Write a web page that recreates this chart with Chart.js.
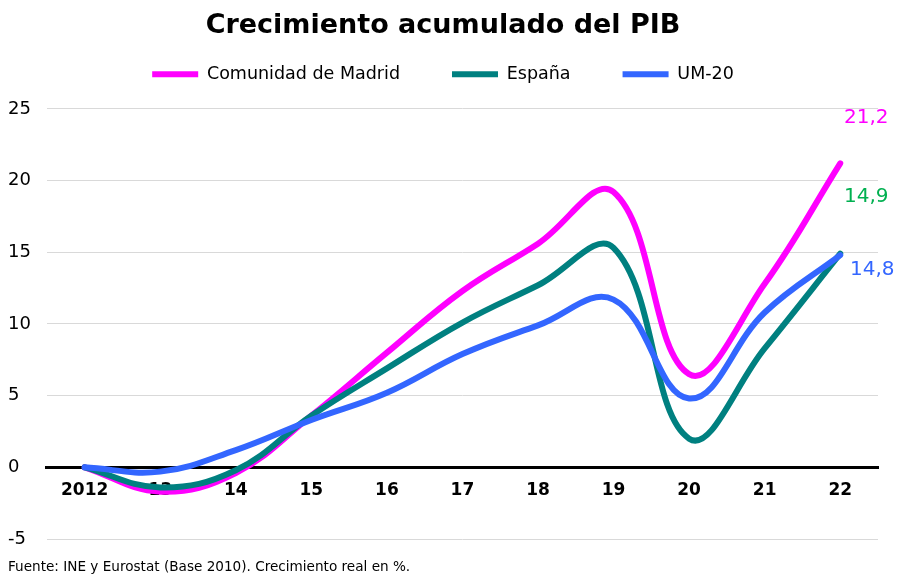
<!DOCTYPE html>
<html>
<head>
<meta charset="utf-8">
<script src="https://cdn.jsdelivr.net/npm/chart.js@4"></script>
<style>
  html, body { margin: 0; padding: 0; background: #fff; }
  #wrap { width: 898px; height: 574px; }
</style>
</head>
<body>
<div id="wrap"><canvas id="pibChart"></canvas></div>
<script>
// Datos (crecimiento acumulado, %)
const years = ['2012', '13', '14', '15', '16', '17', '18', '19', '20', '21', '22'];
const madrid = [0, -1.7, -0.4, 3.6, 8.0, 12.3, 15.6, 19.2, 6.5, 12.8, 21.2];
const espana = [0, -1.4, -0.2, 3.6, 6.9, 10.1, 12.7, 15.3, 2.0, 8.3, 14.9];
const um20 = [0, -0.3, 1.2, 3.3, 5.2, 7.9, 9.9, 11.7, 4.8, 10.8, 14.8];
const yTicks = [-5, 0, 5, 10, 15, 20, 25];

const FONT = "'DejaVu Sans', Verdana, sans-serif";

// un poco más de aire bajo la leyenda
const legendSpace = {
  id: 'legendSpace',
  afterInit(chart) {
    const lg = chart.legend;
    if (!lg) return;
    const fit = lg.fit;
    lg.fit = function () { fit.call(this); this.height += 16; };
  }
};

// etiquetas de valor final a la derecha de cada serie
const endLabels = {
  id: 'endLabels',
  afterDatasetsDraw(chart) {
    const ctx = chart.ctx;
    const cfg = [
      { ds: 0, color: '#ff00ff', dx: 26, dy: -46 },
      { ds: 1, color: '#00b050', dx: 26, dy: -57 },
      { ds: 2, color: '#3366ff', dx: 32, dy: 15 }
    ];
    ctx.save();
    ctx.font = '20px ' + FONT;
    ctx.textAlign = 'center';
    ctx.textBaseline = 'middle';
    cfg.forEach(c => {
      const meta = chart.getDatasetMeta(c.ds);
      const pt = meta.data[meta.data.length - 1];
      const vals = chart.data.datasets[c.ds].data;
      const txt = vals[vals.length - 1].toFixed(1).replace('.', ',');
      ctx.fillStyle = c.color;
      ctx.fillText(txt, pt.x + c.dx, pt.y + c.dy);
    });
    ctx.restore();
  }
};

// nota de fuente abajo a la izquierda
const sourceNote = {
  id: 'sourceNote',
  afterDraw(chart) {
    const ctx = chart.ctx;
    ctx.save();
    ctx.font = '13.6px ' + FONT;
    ctx.fillStyle = '#000';
    ctx.textAlign = 'left';
    ctx.textBaseline = 'middle';
    ctx.fillText('Fuente: INE y Eurostat (Base 2010). Crecimiento real en %.', 8, 567);
    ctx.restore();
  }
};

const ctx = document.getElementById('pibChart');
new Chart(ctx, {
  type: 'line',
  data: {
    labels: years,
    datasets: [
      { label: 'Comunidad de Madrid', data: madrid, borderColor: '#ff00ff', backgroundColor: '#ff00ff', order: 3 },
      { label: 'España', data: espana, borderColor: '#008080', backgroundColor: '#008080', order: 2 },
      { label: 'UM-20', data: um20, borderColor: '#3366ff', backgroundColor: '#3366ff', order: 1 }
    ]
  },
  options: {
    responsive: true,
    maintainAspectRatio: false,
    animation: false,
    layout: { padding: { left: 8, right: 20, top: 0, bottom: 35 } },
    elements: {
      line: { borderWidth: 6, tension: 0.4, borderCapStyle: 'round', borderJoinStyle: 'round' },
      point: { radius: 0, hoverRadius: 0 }
    },
    plugins: {
      title: {
        display: true,
        text: 'Crecimiento acumulado del PIB',
        color: '#000',
        font: { family: FONT, size: 27, weight: 'bold' },
        padding: { top: 10, bottom: -29 }
      },
      legend: {
        position: 'top',
        labels: {
          color: '#000',
          font: { family: FONT, size: 17.5 },
          boxWidth: 46,
          boxHeight: 6,
          padding: 52,
          sort: (a, b) => a.datasetIndex - b.datasetIndex,
          generateLabels(chart) {
            const items = Chart.defaults.plugins.legend.labels.generateLabels(chart);
            items.forEach(it => { it.lineWidth = 0; });
            return items;
          }
        }
      },
      tooltip: { enabled: false }
    },
    scales: {
      x: {
        position: { y: 0 },
        offset: true,
        grid: { display: false },
        border: { display: true, color: '#000', width: 3 },
        ticks: {
          color: '#000',
          padding: 5,
          font: { family: FONT, size: 17, weight: 'bold' }
        }
      },
      y: {
        min: -5,
        max: 25,
        afterBuildTicks(axis) { axis.ticks = yTicks.map(v => ({ value: v })); },
        grid: { color: '#d9d9d9', lineWidth: 1, drawTicks: false },
        border: { display: false },
        ticks: {
          color: '#000',
          padding: 8,
          crossAlign: 'far',
          font: { family: FONT, size: 18 }
        }
      }
    }
  },
  plugins: [legendSpace, endLabels, sourceNote]
});
</script>
</body>
</html>
